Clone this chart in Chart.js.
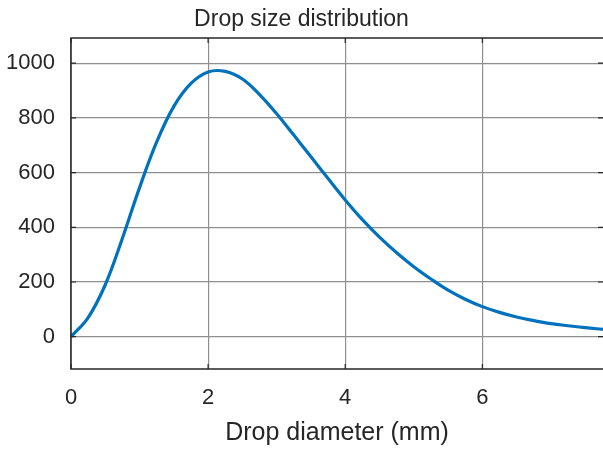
<!DOCTYPE html>
<html lang="en">
<head>
    <meta charset="UTF-8">
    <title>Drop size distribution</title>
    <script src="https://cdn.jsdelivr.net/npm/chart.js"></script>
    <style>
        html, body { margin: 0; padding: 0; background: #fff; }
        #wrap { width: 603px; height: 451px; }
    </style>
</head>
<body>
    <div id="wrap"><canvas id="chart"></canvas></div>

    <script>
        // drop diameter (mm) and count
        const diameters = [0, 0.25, 0.5, 0.75, 1.0, 1.25, 1.5, 1.75, 2.0, 2.25, 2.5, 2.75, 3.0, 3.25, 3.5,
            3.75, 4.0, 4.25, 4.5, 4.75, 5.0, 5.25, 5.5, 5.75, 6.0, 6.25, 6.5, 6.75, 7.0, 7.25, 7.5, 7.76];
        const counts = [0, 70, 190, 360, 545, 712, 842, 926, 968, 970, 942, 885, 815, 737, 658,
            578, 500, 428, 364, 307, 256, 211, 170, 137, 110, 89, 72, 59, 48, 40, 33, 27];
        const xTicks = [0, 2, 4, 6];
        const yTicks = [0, 200, 400, 600, 800, 1000];

        const font = 'Liberation Sans, Arial, Helvetica, sans-serif';
        const textColor = '#262626';

        // MATLAB style box: top/left/bottom edges and small inward ticks
        const boxPlugin = {
            id: 'box',
            afterDraw(chart) {
                const { ctx, chartArea: a, scales } = chart;
                ctx.save();
                ctx.strokeStyle = '#262626';
                ctx.lineWidth = 1.5;
                ctx.beginPath();
                ctx.moveTo(a.right, a.top);
                ctx.lineTo(a.left, a.top);
                ctx.lineTo(a.left, a.bottom);
                ctx.lineTo(a.right, a.bottom);
                ctx.stroke();
                ctx.lineWidth = 1.2;
                ctx.beginPath();
                yTicks.forEach(v => {
                    const y = scales.y.getPixelForValue(v);
                    ctx.moveTo(a.left, y); ctx.lineTo(a.left + 5, y);
                    ctx.moveTo(a.right, y); ctx.lineTo(a.right - 5, y);
                });
                xTicks.forEach(v => {
                    const x = scales.x.getPixelForValue(v);
                    ctx.moveTo(x, a.bottom); ctx.lineTo(x, a.bottom - 5);
                    ctx.moveTo(x, a.top); ctx.lineTo(x, a.top + 5);
                });
                ctx.stroke();
                ctx.restore();
            }
        };

        const chart = new Chart(document.getElementById('chart'), {
            type: 'line',
            data: {
                datasets: [{
                    data: diameters.map((d, i) => ({ x: d, y: counts[i] })),
                    borderColor: '#0072BD',
                    borderWidth: 3.2,
                    pointRadius: 0,
                    fill: false,
                    tension: 0.4
                }]
            },
            options: {
                responsive: true,
                maintainAspectRatio: false,
                animation: false,
                layout: { padding: 0 },
                plugins: {
                    legend: { display: false },
                    tooltip: { enabled: false },
                    title: {
                        display: true,
                        text: 'Drop size distribution',
                        color: textColor,
                        font: { family: font, size: 23, weight: 'normal' },
                        padding: { top: 5.7, bottom: 4.7 }
                    }
                },
                scales: {
                    x: {
                        type: 'linear',
                        min: 0,
                        max: 7.76,
                        afterBuildTicks: s => { s.ticks = xTicks.map(v => ({ value: v })); },
                        afterFit: s => { s.height = 82; },
                        grid: { color: '#8f8f8f', lineWidth: 1.2, drawTicks: false },
                        border: { display: false },
                        ticks: { color: textColor, padding: 16, font: { family: font, size: 22 },
                            callback: v => String(v) },
                        title: {
                            display: true,
                            text: 'Drop diameter (mm)',
                            color: textColor,
                            font: { family: font, size: 25 },
                            padding: { top: 4, bottom: 3 }
                        }
                    },
                    y: {
                        min: -118,
                        max: 1092,
                        afterBuildTicks: s => { s.ticks = yTicks.map(v => ({ value: v })); },
                        afterFit: s => { s.width = 71; },
                        grid: { color: '#8f8f8f', lineWidth: 1.2, drawTicks: false },
                        border: { display: false },
                        ticks: { color: textColor, padding: 16, font: { family: font, size: 22 },
                            callback: v => String(v) }
                    }
                }
            },
            plugins: [boxPlugin]
        });
    </script>
</body>
</html>
